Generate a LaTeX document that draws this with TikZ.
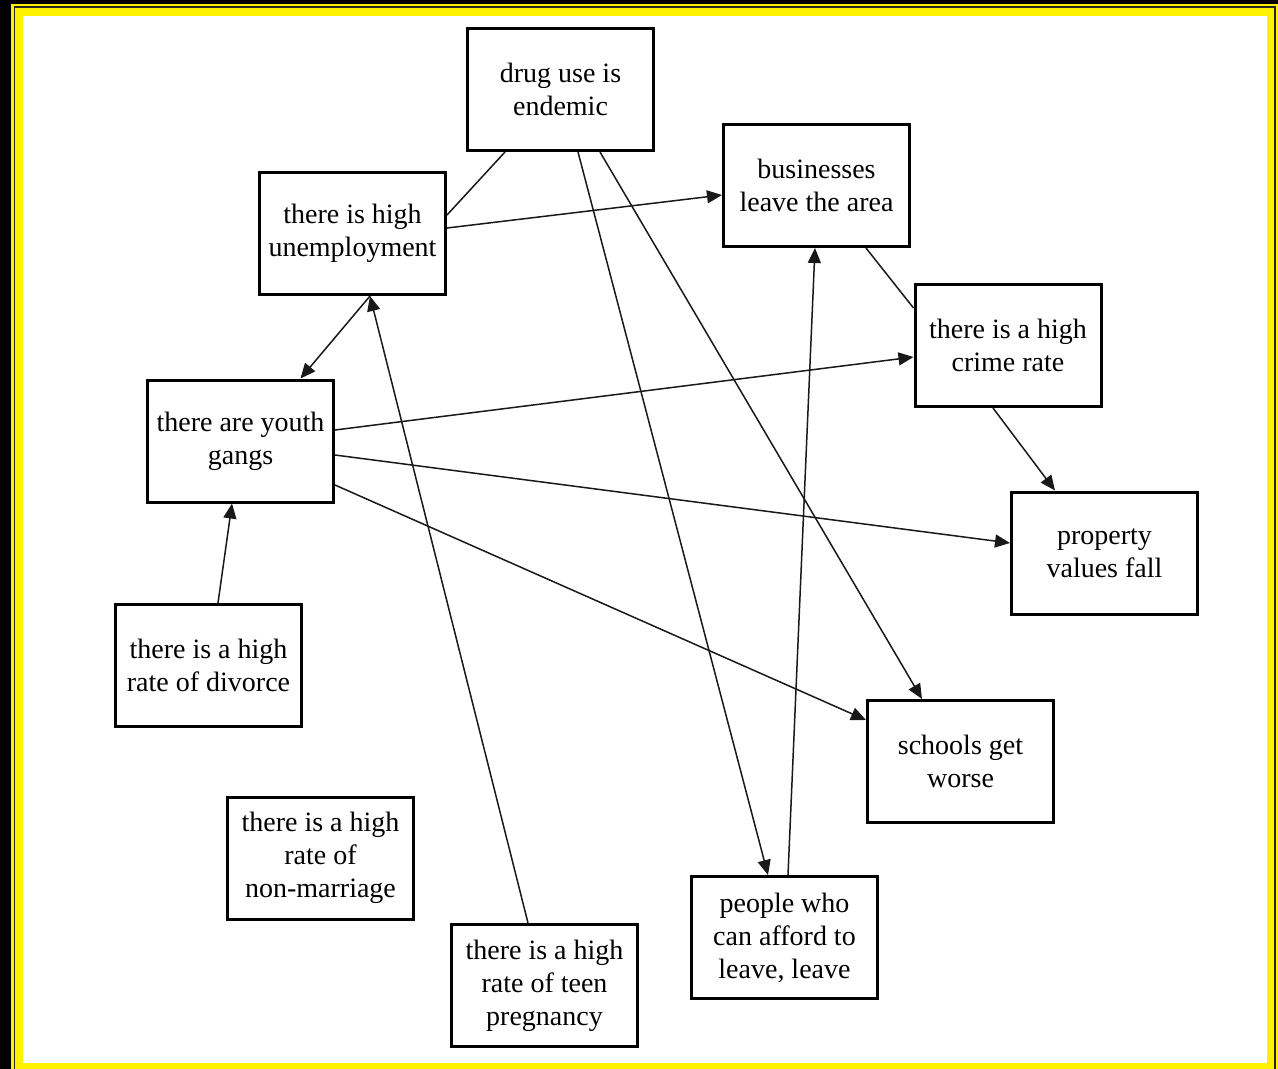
\documentclass[tikz,border=0pt]{standalone}
\usepackage{fontspec}
\setmainfont{Liberation Serif}
\usetikzlibrary{arrows.meta,calc}
\begin{document}
\begin{tikzpicture}[x=1pt,y=-1pt,
  box/.style={draw=black,line width=3pt,fill=white,minimum width=186pt,minimum height=122pt,
    align=center,inner sep=0pt,font=\fontsize{28}{33}\selectfont},
  conn/.style={line width=1.5pt,draw=black!90},
  arr/.style={conn,-{Triangle[length=15pt,width=13pt]}}]
\useasboundingbox (0,0) rectangle (1278,1069);
% frame
\fill[white] (0,0) rectangle (1278,1069);
\fill[yellow] (11,4) rectangle (1278,1069);
\fill[black] (0,0) rectangle (11,1069);
\fill[black] (0,0) rectangle (1278,4);
\draw[black!85,line width=1.6pt] (14.5,7) rectangle (1275,1080);
\fill[white] (23,16) rectangle (1267,1063);
% nodes
\node[box] (drug) at (560.5,89.5) {drug use is\\endemic};
\node[box] (unemp) at (352.5,233.5) {there is high\\unemployment};
\node[box] (business) at (816.5,185.5) {businesses\\leave the area};
\node[box] (crime) at (1008,345.5) {there is a high\\crime rate};
\node[box] (gangs) at (240.5,441) {there are youth\\gangs};
\node[box] (property) at (1104.5,553) {property\\values fall};
\node[box] (divorce) at (208.5,665.5) {there is a high\\rate of divorce};
\node[box] (schools) at (960.5,761.5) {schools get\\worse};
\node[box] (nonmar) at (320.5,858) {there is a high\\rate of\\non-marriage};
\node[box] (teen) at (544.5,985.5) {there is a high\\rate of teen\\pregnancy};
\node[box] (people) at (784.5,937.5) {people who\\can afford to\\leave, leave};
% connectors
\draw[arr] ($(drug.south)+(17.5,0)$) -- ($(people.north)+(-16.5,0)$);
\draw[arr] ($(drug.south)+(39.5,0)$) -- ($(schools.north)+(-38.5,0)$);
\draw[conn] ($(drug.south)+(-55.5,0)$) -- ($(unemp.east)+(0,-18.5)$);
\draw[arr] ($(unemp.east)+(0,-5.5)$) -- ($(business.west)+(0,9.5)$);
\draw[arr] ($(unemp.south)+(17.5,0)$) -- ($(gangs.north)+(60,0)$);
\draw[conn] ($(business.south)+(49.5,0)$) -- ($(crime.west)+(0,-37.5)$);
\draw[arr] ($(gangs.east)+(0,-11)$) -- ($(crime.west)+(0,11.5)$);
\draw[arr] ($(crime.south)+(-15,0)$) -- ($(property.north)+(-49.5,0)$);
\draw[arr] ($(gangs.east)+(0,14)$) -- ($(property.west)+(0,-10)$);
\draw[arr] ($(gangs.east)+(0,44)$) -- ($(schools.west)+(0,-41.5)$);
\draw[arr] ($(divorce.north)+(9.5,0)$) -- ($(gangs.south)+(-8.5,0)$);
\draw[arr] ($(teen.north)+(-16.5,0)$) -- ($(unemp.south)+(17.5,0)$);
\draw[arr] ($(people.north)+(3.5,0)$) -- ($(business.south)+(-1.5,0)$);
\end{tikzpicture}
\end{document}
